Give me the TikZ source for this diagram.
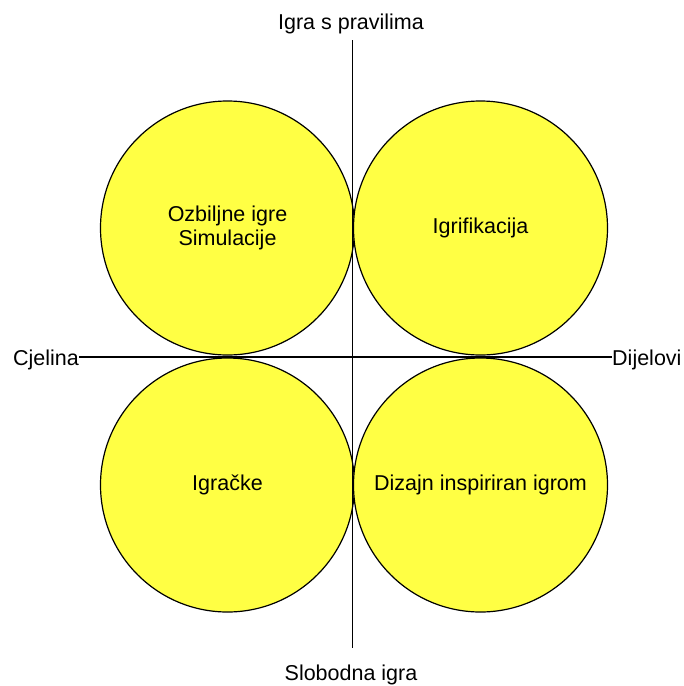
\documentclass[tikz,border=0pt]{standalone}
\usepackage{fontspec}
\setmainfont{Liberation Sans}
\definecolor{circfill}{HTML}{FFFF44}
\begin{document}
\begin{tikzpicture}[x=1pt,y=-1pt,
  circ/.style={circle, draw=black, line width=1.2pt, fill=circfill, minimum size=254pt, inner sep=0pt, align=center, font=\fontsize{21.5}{24}\selectfont},
  lbl/.style={font=\fontsize{21.5}{24}\selectfont, inner sep=0pt},
  axisline/.style={line width=1.2pt, draw=black}]
\useasboundingbox (0,0) rectangle (684,686);
\node[circ] (tl) at (227.5,228) {Ozbiljne igre\\Simulacije};
\node[circ] (tr) at (480.5,228) {Igrifikacija};
\node[circ] (bl) at (227.5,485) {Igračke};
\node[circ] (br) at (480.5,485) {Dizajn inspiriran igrom};
\node[lbl, anchor=base] (top) at (351,29.5) {Igra s pravilima};
\node[lbl, anchor=base] (bot) at (351,680) {Slobodna igra};
\node[lbl, anchor=base east] (cj) at (79,365) {Cjelina};
\node[lbl, anchor=base west] (dj) at (612,365) {Dijelovi};
\coordinate (vt) at (352.5,40);
\coordinate (vb) at (352.5,648);
\coordinate (hl) at (0,357);
\draw[axisline] (vt) -- (vb);
\draw[axisline] (cj.east |- hl) -- (dj.west |- hl);
\end{tikzpicture}
\end{document}
